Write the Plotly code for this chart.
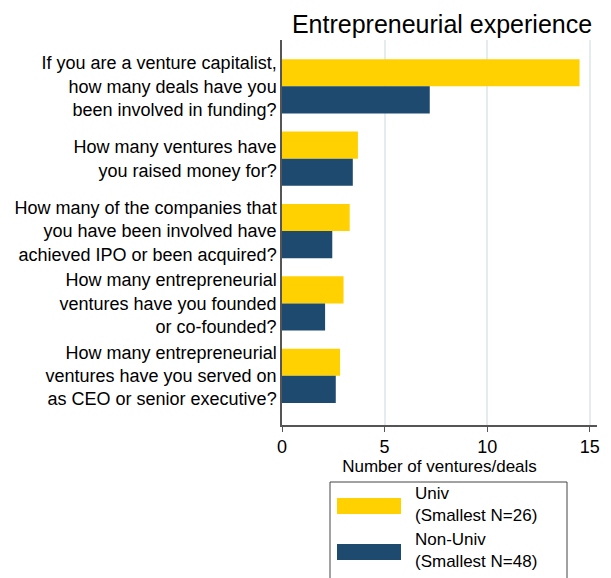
import plotly.graph_objects as go

questions = [
    "If you are a venture capitalist,<br>how many deals have you<br>been involved in funding?",
    "How many ventures have<br>you raised money for?",
    "How many of the companies that<br>you have been involved have<br>achieved IPO or been acquired?",
    "How many entrepreneurial<br>ventures have you founded<br>or co-founded?",
    "How many entrepreneurial<br>ventures have you served on<br>as CEO or senior executive?",
]
univ = [14.5, 3.7, 3.3, 3.0, 2.83]
non_univ = [7.2, 3.45, 2.45, 2.1, 2.62]
series_names = ["Univ<br>(Smallest N=26)", "Non-Univ<br>(Smallest N=48)"]
colors = ["#FFD100", "#1D4A6E"]

# the page body has an 8px margin, so the figure is shrunk to fit inside it
# and all pixel positions below are given in page pixels minus that offset
OFF = 8
W, H = 611 - 2 * OFF, 578 - OFF
L, T = 282 - OFF, 40 - OFF
R = W - (597 - OFF)
B = H - (425 - OFF)


def px_x(x):
    return (x - OFF - L) / (W - L - R)


def px_y(y):
    return (H - B - (y - OFF)) / (H - T - B)


fig = go.Figure()
fig.add_trace(go.Bar(y=questions, x=univ, orientation='h', name=series_names[0],
                     marker=dict(color=colors[0], line=dict(width=0)), showlegend=False))
fig.add_trace(go.Bar(y=questions, x=non_univ, orientation='h', name=series_names[1],
                     marker=dict(color=colors[1], line=dict(width=0)), showlegend=False))

font = "Liberation Sans, Arial, Helvetica, sans-serif"

fig.update_layout(
    width=W, height=H,
    margin=dict(l=L, r=R, t=T, b=B, autoexpand=False),
    paper_bgcolor="white", plot_bgcolor="white",
    barmode="group", bargap=0.25, bargroupgap=0,
    font=dict(family=font, color="black", size=17),
    title=dict(text="Entrepreneurial experience", x=(442 - OFF) / W, xref="container",
               y=1 - (24 - OFF) / H, yref="container", xanchor="center", yanchor="middle",
               font=dict(size=25, color="black")),
)
fig.update_xaxes(
    range=[0, 15.35], tickvals=[0, 5, 10, 15], ticks="outside", ticklen=5,
    tickcolor="#555555", showline=True, linecolor="#555555", linewidth=1.5,
    showgrid=True, gridcolor="#e4ecf0", gridwidth=1.5, zeroline=False, automargin=False,
    tickfont=dict(size=18), title=dict(text="Number of ventures/deals", font=dict(size=17), standoff=4),
)
fig.update_yaxes(
    range=[4.68, -0.64], showline=True, linecolor="#555555", linewidth=1.5,
    ticks="", showgrid=False, tickfont=dict(size=18), automargin=False,
)

# legend box drawn in paper coordinates
fig.add_shape(type="rect", xref="paper", yref="paper",
              x0=px_x(330), x1=px_x(567), y0=px_y(482), y1=px_y(590),
              line=dict(color="#444444", width=1), fillcolor="white")
for i, (nm, c) in enumerate(zip(series_names, colors)):
    yc = 506 + i * 46
    fig.add_shape(type="rect", xref="paper", yref="paper",
                  x0=px_x(337), x1=px_x(401), y0=px_y(yc - 8), y1=px_y(yc + 8),
                  line=dict(width=0), fillcolor=c)
    fig.add_annotation(text=nm, xref="paper", yref="paper", x=px_x(413), y=px_y(yc - 2),
                       xanchor="left", yanchor="middle", align="left", showarrow=False,
                       font=dict(size=17, color="black"))

fig.write_html("out.html")
